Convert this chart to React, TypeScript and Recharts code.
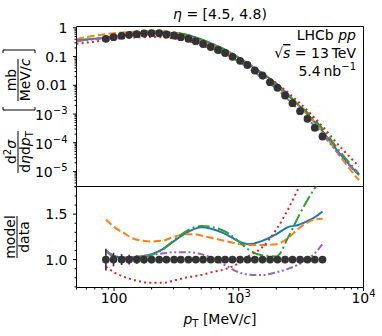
import React from 'react';
import {
  ComposedChart,
  ErrorBar,
  Line,
  ReferenceArea,
  Scatter,
  XAxis,
  YAxis,
} from 'recharts';

const FONT = '"DejaVu Sans", sans-serif';
const INK = '#000';
const DOT = '#333333';

// measured points: bin centre [MeV/c] and d2sigma/deta/dpT [mb/(MeV/c)]
const ptPoints = [
  86, 99, 115, 132, 152, 174, 200, 230, 263, 303, 343, 395, 452, 517, 596,
  682, 777, 890, 1024, 1174, 1344, 1549, 1782, 2044, 2351, 2696, 3101, 3556,
  4068, 4691,
];
const xsecPoints = [
  0.414, 0.471, 0.527, 0.571, 0.599, 0.634, 0.649, 0.649, 0.585, 0.54, 0.471,
  0.414, 0.342, 0.273, 0.215, 0.169, 0.133, 0.098, 0.0711, 0.0508, 0.0327,
  0.0219, 0.0128, 0.00817, 0.0044, 0.00238, 0.00125, 6.8e-4, 3.3e-4, 1.65e-4,
];
const dataRatio = [
  1, 1, 1, 1, 1, 1, 1, 1, 1, 1, 1, 1, 1, 1, 1, 1, 1, 1, 1, 1, 1, 1, 1, 1, 1,
  1, 1, 1, 1, 1,
];
const ratioErr = [
  0.12, 0.075, 0.06, 0.053, 0.046, 0.042, 0.04, 0.035, 0.03, 0.03, 0.028,
  0.025, 0.025, 0.022, 0.02, 0.02, 0.02, 0.02, 0.02, 0.02, 0.02, 0.022, 0.025,
  0.025, 0.028, 0.03, 0.03, 0.03, 0.032, 0.035,
];

// model curves, upper panel
const modelPt = [50, 70, 100, 150, 200, 300, 400, 600, 800, 1000, 1500, 2000, 3000, 4691, 6500, 9200];
const blueTop = [0.36, 0.42, 0.494, 0.618, 0.684, 0.66, 0.537, 0.285, 0.159, 0.0904, 0.0288, 0.0114, 0.00207, 2.52e-4, 4.0e-5, 7.5e-6];
const orangeTop = [0.41, 0.53, 0.646, 0.732, 0.774, 0.69, 0.535, 0.264, 0.15, 0.0889, 0.0278, 0.0104, 0.002, 2.39e-4, 3.3e-5, 4.9e-6];
const greenTop = [0.36, 0.42, 0.489, 0.618, 0.684, 0.671, 0.545, 0.29, 0.1625, 0.0912, 0.0252, 0.00921, 0.0022, 3.1e-4, 4.8e-5, 8.3e-6];
const redTop = [0.277, 0.33, 0.409, 0.462, 0.48, 0.424, 0.34, 0.183, 0.1125, 0.073, 0.0269, 0.0118, 0.00267, 3.7e-4, 7.2e-5, 1.5e-5];
const purpleTop = [0.34, 0.4, 0.494, 0.618, 0.677, 0.594, 0.443, 0.217, 0.116, 0.0654, 0.0199, 0.00765, 0.00142, 1.93e-4, 3.6e-5, 7.5e-6];

// model / data, lower panel
const ratioPt = [86, 100, 120, 150, 200, 250, 300, 400, 500, 600, 800, 1000, 1200, 1500, 2000, 2500, 3000, 3500, 4000, 4691];
const blueRatio = [1.1, 1.04, 1.02, 1.03, 1.06, 1.12, 1.2, 1.31, 1.355, 1.34, 1.275, 1.2, 1.17, 1.2, 1.28, 1.36, 1.38, 1.42, 1.46, 1.53];
const orangeRatio = [1.44, 1.36, 1.29, 1.22, 1.2, 1.21, 1.25, 1.28, 1.265, 1.24, 1.2, 1.17, 1.16, 1.16, 1.17, 1.24, 1.34, 1.4, 1.44, 1.45];
const greenRatio = [1.1, 1.03, 1.02, 1.02, 1.05, 1.12, 1.21, 1.33, 1.37, 1.36, 1.3, 1.2, 1.11, 1.05, 1.035, 1.25, 1.47, 1.64, 1.77, 1.9];
const redRatio = [0.92, 0.86, 0.81, 0.77, 0.745, 0.745, 0.77, 0.81, 0.83, 0.86, 0.9, 0.96, 1.04, 1.12, 1.33, 1.56, 1.78, 1.95, 2.1, 2.25];
const purpleRatio = [1.1, 1.04, 1.02, 1.03, 1.05, 1.07, 1.08, 1.08, 1.06, 1.02, 0.93, 0.86, 0.835, 0.83, 0.86, 0.9, 0.945, 1.0, 1.06, 1.17];

// axes
const X_DOMAIN: [number, number] = [50, 10000];
const TOP_DOMAIN: [number, number] = [3.0e-6, 1.11];
const RATIO_DOMAIN: [number, number] = [0.693, 1.804];
const xMajor = [100, 1000, 10000];
const xMajorLabels = ['100', '10^3', '10^4'];
const topMajor = [1e-5, 1e-4, 1e-3, 0.01, 0.1, 1];
const topMajorLabels = ['10^−5', '10^−4', '10^−3', '0.01', '0.1', '1'];
const ratioMajor = [1.0, 1.5];
const ratioMajorLabels = ['1.0', '1.5'];

const models = [
  { key: 'blue', color: '#1f77b4', dash: undefined, top: blueTop, ratio: blueRatio },
  { key: 'orange', color: '#ff7f0e', dash: '7.5 3.3', top: orangeTop, ratio: orangeRatio },
  { key: 'green', color: '#2ca02c', dash: '12 3.3 2 3.3', top: greenTop, ratio: greenRatio },
  { key: 'red', color: '#d62728', dash: '2 3.2', top: redTop, ratio: redRatio },
  { key: 'purple', color: '#9467bd', dash: '7 2.6 2 2.6 2 2.6', top: purpleTop, ratio: purpleRatio },
];

const logTicks = ([lo, hi]: [number, number]) => {
  const out: number[] = [];
  for (let e = Math.floor(Math.log10(lo)); e <= Math.ceil(Math.log10(hi)); e++) {
    for (let k = 1; k <= 9; k++) {
      const v = Number((k * Math.pow(10, e)).toPrecision(6));
      if (v >= lo && v <= hi) out.push(v);
    }
  }
  return out;
};
const linTicks = ([lo, hi]: [number, number], step: number) => {
  const out: number[] = [];
  for (let v = Math.ceil(lo / step) * step; v <= hi + 1e-9; v += step) out.push(Number(v.toFixed(4)));
  return out;
};

const findLabel = (v: number, majors: number[], labels: string[]) => {
  const i = majors.findIndex((m) => Math.abs(m - v) < Math.abs(m) * 1e-6);
  return i >= 0 ? labels[i] : null;
};

const labelContent = (lab: string) => {
  const [base, exp] = lab.split('^');
  if (!exp) return base;
  return (
    <>
      {base}
      <tspan dy={-6} fontSize={10}>{exp}</tspan>
    </>
  );
};

const YTick = (props: any) => {
  const { x, y, payload, majors, labels } = props;
  const lab = findLabel(payload.value, majors, labels);
  const len = lab ? 3.5 : 2;
  return (
    <g>
      <line x1={x - len} x2={x} y1={y} y2={y} stroke={INK} strokeWidth={1} />
      {lab && (
        <text x={x - 9} y={y} dy={lab.includes('^') ? 6 : 5} textAnchor="end" fontSize={14} fontFamily={FONT} fill={INK}>
          {labelContent(lab)}
        </text>
      )}
    </g>
  );
};

const XTick = (props: any) => {
  const { x, y, payload } = props;
  const lab = findLabel(payload.value, xMajor, xMajorLabels);
  const len = lab ? 3.5 : 2;
  return (
    <g>
      <line x1={x} x2={x} y1={y} y2={y + len} stroke={INK} strokeWidth={1} />
      {lab && (
        <text x={x} y={y + 15} textAnchor="middle" fontSize={14} fontFamily={FONT} fill={INK}>
          {labelContent(lab)}
        </text>
      )}
    </g>
  );
};

const dotShape = (p: any) => <circle cx={p.cx} cy={p.cy} r={3.9} fill={DOT} />;

const Rot = ({ x, y, size = 14, children }: { x: number; y: number; size?: number; children: React.ReactNode }) => (
  <text transform={`translate(${x},${y}) rotate(-90)`} textAnchor="middle" fontSize={size} fontFamily={FONT} fill={INK}>
    {children}
  </text>
);

export default function App() {
  const topPoints = ptPoints.map((x, i) => ({ x, y: xsecPoints[i] }));
  const ratioPoints = ptPoints.map((x, i) => ({ x, y: dataRatio[i], err: ratioErr[i] }));
  const xTicks = logTicks(X_DOMAIN);

  return (
    <div style={{ position: 'absolute', left: 0, top: 0, width: 382, height: 336, background: '#fff', fontFamily: FONT }}>
      <div style={{ position: 'absolute', left: 0, top: 0 }}>
        <ComposedChart width={382} height={190} margin={{ top: 26.5, right: 18.5, bottom: 3.5, left: 0 }}>
          <XAxis type="number" dataKey="x" scale="log" domain={X_DOMAIN} allowDataOverflow hide />
          <YAxis
            type="number"
            scale="log"
            domain={TOP_DOMAIN}
            allowDataOverflow
            width={76.5}
            ticks={logTicks(TOP_DOMAIN)}
            interval={0}
            tickSize={0}
            tickMargin={0}
            tickLine={false}
            axisLine={false}
            tick={(p: any) => <YTick {...p} majors={topMajor} labels={topMajorLabels} />}
          />
          {models.map((m) => (
            <Line
              key={m.key}
              data={modelPt.map((x, i) => ({ x, y: m.top[i] }))}
              dataKey="y"
              type="monotone"
              stroke={m.color}
              strokeWidth={2}
              strokeDasharray={m.dash}
              dot={false}
              activeDot={false}
              isAnimationActive={false}
            />
          ))}
          <Scatter data={topPoints} dataKey="y" shape={dotShape} isAnimationActive={false} />
          <ReferenceArea x1={X_DOMAIN[0]} x2={X_DOMAIN[1]} y1={TOP_DOMAIN[0]} y2={TOP_DOMAIN[1]} fill="none" stroke={INK} strokeWidth={1} />
        </ComposedChart>
      </div>

      <div style={{ position: 'absolute', left: 0, top: 176 }}>
        <ComposedChart width={382} height={160} margin={{ top: 10.5, right: 18.5, bottom: 0, left: 0 }}>
          <XAxis
            type="number"
            dataKey="x"
            scale="log"
            domain={X_DOMAIN}
            allowDataOverflow
            height={48.5}
            ticks={xTicks}
            interval={0}
            tickSize={0}
            tickMargin={0}
            tickLine={false}
            axisLine={false}
            tick={(p: any) => <XTick {...p} />}
          />
          <YAxis
            type="number"
            domain={RATIO_DOMAIN}
            allowDataOverflow
            width={76.5}
            ticks={linTicks(RATIO_DOMAIN, 0.1)}
            interval={0}
            tickSize={0}
            tickMargin={0}
            tickLine={false}
            axisLine={false}
            tick={(p: any) => <YTick {...p} majors={ratioMajor} labels={ratioMajorLabels} />}
          />
          {models.map((m) => (
            <Line
              key={m.key}
              data={ratioPt.map((x, i) => ({ x, y: m.ratio[i] }))}
              dataKey="y"
              type="monotone"
              stroke={m.color}
              strokeWidth={2}
              strokeDasharray={m.dash}
              dot={false}
              activeDot={false}
              isAnimationActive={false}
            />
          ))}
          <Scatter data={ratioPoints} dataKey="y" shape={dotShape} isAnimationActive={false}>
            <ErrorBar dataKey="err" direction="y" width={0} stroke={DOT} strokeWidth={1.6} />
          </Scatter>
          <ReferenceArea x1={X_DOMAIN[0]} x2={X_DOMAIN[1]} y1={RATIO_DOMAIN[0]} y2={RATIO_DOMAIN[1]} fill="none" stroke={INK} strokeWidth={1} />
        </ComposedChart>
      </div>

      <svg width={382} height={336} style={{ position: 'absolute', left: 0, top: 0, pointerEvents: 'none' }} fontFamily={FONT}>
        <text x={220} y={19} textAnchor="middle" fontSize={14} fill={INK}>
          <tspan fontStyle="italic">η</tspan> = [4.5, 4.8)
        </text>
        <text x={356} y={40} textAnchor="end" fontSize={14} fill={INK}>
          LHCb <tspan fontStyle="italic">pp</tspan>
        </text>
        <text x={356} y={58} textAnchor="end" fontSize={14} fill={INK}>
          √<tspan fontStyle="italic" textDecoration="overline">s</tspan> = 13{'\u2009'}TeV
        </text>
        <text x={356} y={76} textAnchor="end" fontSize={14} fill={INK}>
          5.4{'\u2009'}nb<tspan dy={-6} fontSize={10}>−1</tspan>
        </text>

        <text x={220} y={324} textAnchor="middle" fontSize={14} fill={INK}>
          <tspan fontStyle="italic">p</tspan>
          <tspan fontSize={10} dy={3}>T</tspan>
          <tspan dy={-3}> [MeV/</tspan>
          <tspan fontStyle="italic">c</tspan>]
        </text>

        {/* upper y label */}
        <Rot x={15.5} y={152}>
          d<tspan dy={-5} fontSize={10}>2</tspan>
          <tspan dy={5} fontStyle="italic">σ</tspan>
        </Rot>
        <line x1={18} x2={18} y1={131} y2={173} stroke={INK} strokeWidth={1} />
        <Rot x={30} y={152}>
          d<tspan fontStyle="italic">η</tspan>d<tspan fontStyle="italic">p</tspan>
          <tspan fontSize={10} dy={3}>T</tspan>
        </Rot>
        <path d="M3 107 L3 110 L35 110 L35 107" fill="none" stroke={INK} strokeWidth={1} />
        <Rot x={15.5} y={80}>mb</Rot>
        <line x1={18} x2={18} y1={59} y2={101} stroke={INK} strokeWidth={1} />
        <Rot x={30} y={80}>
          MeV/<tspan fontStyle="italic">c</tspan>
        </Rot>
        <path d="M3 53 L3 50 L35 50 L35 53" fill="none" stroke={INK} strokeWidth={1} />

        {/* lower y label */}
        <Rot x={14.5} y={237}>model</Rot>
        <line x1={17} x2={17} y1={216} y2={258} stroke={INK} strokeWidth={1} />
        <Rot x={29} y={237}>data</Rot>
      </svg>
    </div>
  );
}
